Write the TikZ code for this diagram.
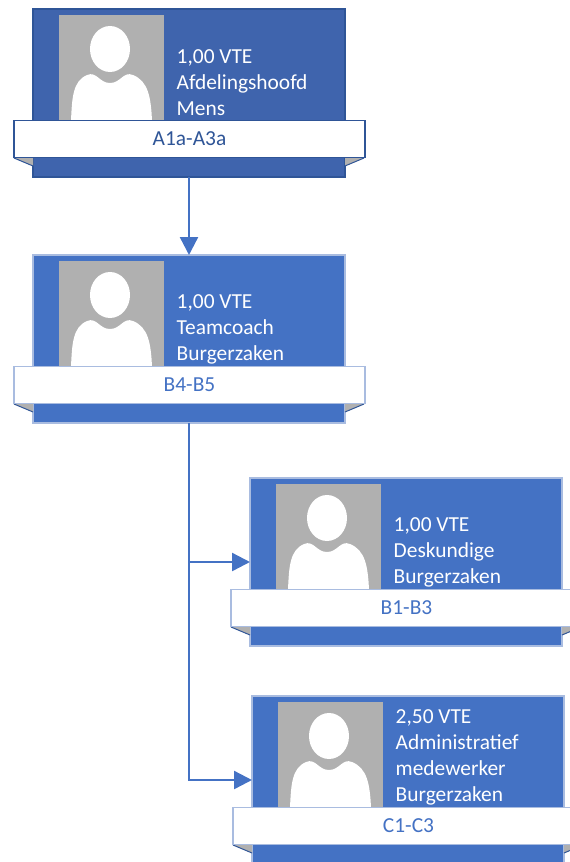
\documentclass[tikz,border=0pt]{standalone}
\usepackage{fontspec}
\setmainfont{Carlito}
\usetikzlibrary{arrows.meta}
\definecolor{cardblue}{HTML}{4472C4}
\definecolor{darkblue}{HTML}{3F64AD}
\definecolor{deepline}{HTML}{2F5597}
\definecolor{paleline}{HTML}{A9BCE0}
\definecolor{photogrey}{HTML}{B0B0B0}
\tikzset{
    lightcard/.style={cardfill/.style={fill=cardblue, draw=paleline}, tagline/.style={draw=paleline}, tagtext/.style={text=cardblue}},
    darkcard/.style={cardfill/.style={fill=darkblue, draw=deepline}, tagline/.style={draw=deepline}, tagtext/.style={text=deepline}},
    link/.style={draw=cardblue, line width=2.4pt, -{Triangle[length=18pt,width=18pt]}}
}
% name, style, x, y, text offset, role text
\newcommand{\personcard}[6]{
    \begin{scope}[#2, shift={(#3,#4)}]
        \node (#1) [cardfill, line width=1.2pt, minimum width=312pt, minimum height=168pt, anchor=north west, inner sep=0pt, outer sep=0pt] at (0,0) {};
        \fill[photogrey] (-19,149) -- (0,157) -- (0,149) -- cycle;
        \draw[deepline, line width=1pt] (-19,149) -- (0,157);
        \fill[photogrey] (331,149) -- (312,157) -- (312,149) -- cycle;
        \draw[deepline, line width=1pt] (331,149) -- (312,157);
        \fill[photogrey] (25.6,6) rectangle (130.6,112);
        \fill[white] (77,40) ellipse (20 and 23);
        \fill[white] (38,112) .. controls (39,88) and (40,72) .. (54,66) .. controls (64,62) and (66,74) .. (77,74) .. controls (88,74) and (90,62) .. (100,66) .. controls (115,72) and (118,88) .. (119,112) -- cycle;
        \node (#1text) [text=white, anchor=west, align=left, inner sep=0pt, font=\fontsize{21.4}{26}\selectfont] at (143.5,#5) {#6};
    \end{scope}
}
\newcommand{\rangetag}[5]{
    \node (#1tag) [#2, fill=white, tagline, tagtext, line width=1.2pt, minimum width=351pt, minimum height=37pt, inner sep=0pt, font=\fontsize{21.4}{25}\selectfont] at (#3,#4) {#5};
}
\begin{document}
\begin{tikzpicture}[x=1pt,y=-1pt]
    \clip (0,0) rectangle (570,862);
    \useasboundingbox (0,0) rectangle (570,862);

    \personcard{head}{darkcard}{33}{9}{74}{1,00 VTE\\Afdelingshoofd\\Mens}
    \rangetag{head}{darkcard}{189.5}{139}{A1a-A3a}

    \personcard{coach}{lightcard}{33}{255}{74}{1,00 VTE\\Teamcoach\\Burgerzaken}
    \rangetag{coach}{lightcard}{189.5}{385}{B4-B5}

    \personcard{expert}{lightcard}{250}{478}{74.5}{1,00 VTE\\Deskundige\\Burgerzaken}
    \rangetag{expert}{lightcard}{406.5}{608}{B1-B3}

    \personcard{clerk}{lightcard}{252}{696}{61.5}{2,50 VTE\\Administratief\\medewerker\\Burgerzaken}
    \rangetag{clerk}{lightcard}{408.5}{826}{C1-C3}

    \draw[link] (head.south) -- (coach.north);
    \draw[link] (coach.south) |- (expert.west);
    \draw[link] (coach.south) |- (clerk.west);
\end{tikzpicture}
\end{document}
